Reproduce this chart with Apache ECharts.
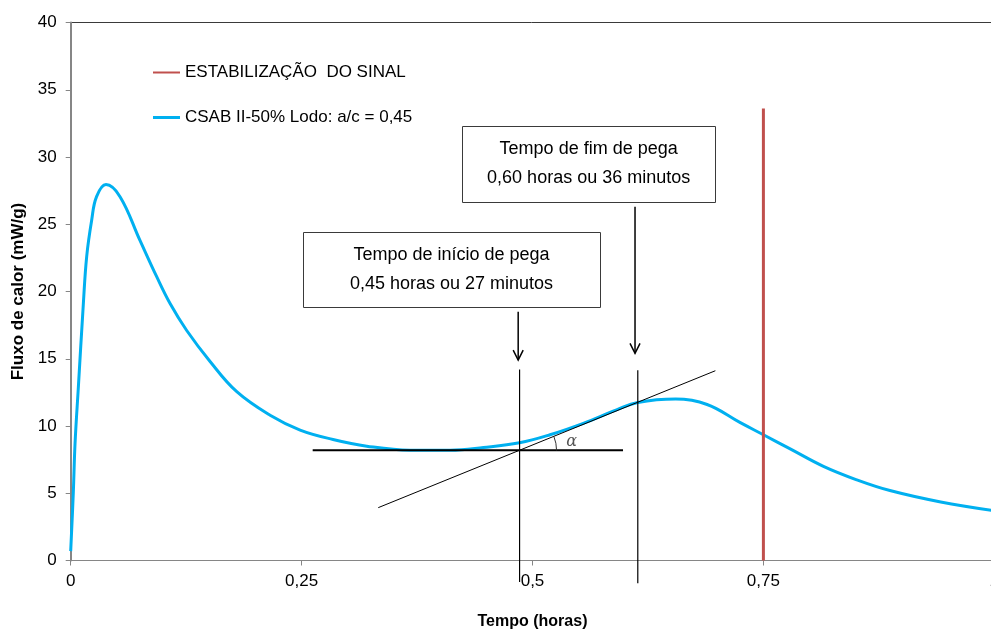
<!DOCTYPE html>
<html>
<head>
<meta charset="utf-8">
<script src="https://cdn.jsdelivr.net/npm/echarts@6/dist/echarts.min.js"></script>
<style>
  html, body { margin: 0; padding: 0; background: #ffffff; }
  #chart { width: 991px; height: 632px; }
</style>
</head>
<body>
<div id="chart"></div>
<script>
// Heat-flow curve: time (hours) vs heat flux (mW/g)
const timeH = [0, 0.0028, 0.0047, 0.0083, 0.0137, 0.0173, 0.0227, 0.028, 0.0382, 0.0534,
  0.075, 0.0931, 0.1076, 0.1256, 0.1509, 0.1798, 0.2159, 0.2484, 0.284, 0.3206,
  0.3675, 0.4108, 0.4469, 0.4859, 0.519, 0.555, 0.591, 0.614, 0.655, 0.689,
  0.725, 0.75, 0.779, 0.815, 0.851, 0.887, 0.942, 1.0];
const fluxMWg = [0.7, 5.0, 8.7, 12.9, 19.1, 22.6, 25.3, 27.05, 27.95, 27.05,
  23.8, 21.1, 19.1, 17.1, 14.8, 12.55, 10.8, 9.7, 9.0, 8.5,
  8.2, 8.2, 8.4, 8.75, 9.35, 10.2, 11.2, 11.75, 12.0, 11.6,
  10.25, 9.35, 8.3, 7.0, 6.0, 5.2, 4.35, 3.7];

// Signal stabilisation marker
const signalTime = [0.75, 0.75];
const signalFlux = [0, 33.6];

// Tangent construction (baseline, tangent, guides at set start / end)
const baselineX = [0.262, 0.598];
const baselineY = [8.19, 8.19];
const tangentX = [0.333, 0.698];
const tangentY = [3.93, 14.11];
const startGuideX = [0.486, 0.486];
const startGuideY = [-1.6, 14.2];
const endGuideX = [0.614, 0.614];
const endGuideY = [-1.7, 14.15];

// Arrows pointing to the guides: [x, yFrom, yTo]
const arrows = [[0.4845, 18.5, 14.9], [0.611, 26.3, 15.4]];

// Callout boxes: centre [x, y] and their texts
const calloutCentres = [[0.4123, 21.61], [0.5608, 29.48]];
const calloutTexts = [
  ['Tempo de início de pega', '0,45 horas ou 27 minutos'],
  ['Tempo de fim de pega', '0,60 horas ou 36 minutos']
];

// Axis ticks
const xTicks = [0, 0.25, 0.5, 0.75, 1];
const yTicks = [0, 5, 10, 15, 20, 25, 30, 35, 40];

const SIGNAL_NAME = 'ESTABILIZAÇÃO  DO SINAL';
const CURVE_NAME = 'CSAB II-50% Lodo: a/c = 0,45';

const FONT = '"Liberation Sans", Arial, sans-serif';
const zip = (xs, ys) => xs.map((x, i) => [x, ys[i]]);
const fmt = v => String(v).replace('.', ',');

const calloutSize = [[297, 75], [253, 76]];

const chart = echarts.init(document.getElementById('chart'), null, { renderer: 'canvas' });

const blackLine = (data, width) => ({
  type: 'line', data, symbol: 'none', silent: true, clip: false, z: 4,
  lineStyle: { color: '#000000', width }, animation: false
});

chart.setOption({
  animation: false,
  backgroundColor: '#ffffff',
  textStyle: { fontFamily: FONT },
  grid: {
    left: 70.7, right: -3.3, top: 22.5, bottom: 71.5,
    containLabel: false, outerBoundsMode: 'none',
    show: true, borderColor: '#3a3a3a', borderWidth: 1
  },
  legend: {
    data: [
      { name: SIGNAL_NAME, icon: 'path://M0,6 L27,6 L27,8 L0,8 Z' },
      { name: CURVE_NAME, icon: 'path://M0,5.5 L27,5.5 L27,8.5 L0,8.5 Z' }
    ],
    orient: 'vertical',
    left: 153, top: 64, padding: 0,
    itemWidth: 27, itemHeight: 14, itemGap: 28,
    textStyle: { fontFamily: FONT, fontSize: 17, color: '#000000' }
  },
  xAxis: {
    type: 'value', min: xTicks[0], max: xTicks[xTicks.length - 1], interval: 0.25,
    name: 'Tempo (horas)', nameLocation: 'middle', nameGap: 53,
    nameTextStyle: { fontFamily: FONT, fontSize: 16, fontWeight: 'bold', color: '#000000' },
    axisLine: { show: true, onZero: false, lineStyle: { color: '#868686', width: 1 } },
    axisTick: { show: true, inside: false, length: 5, lineStyle: { color: '#868686' } },
    axisLabel: { fontFamily: FONT, fontSize: 17, color: '#000000', margin: 12, formatter: fmt,
      showMinLabel: true, showMaxLabel: true },
    splitLine: { show: false }
  },
  yAxis: {
    type: 'value', min: yTicks[0], max: yTicks[yTicks.length - 1], interval: 5,
    name: 'Fluxo de calor (mW/g)', nameLocation: 'middle', nameGap: 44,
    nameTextStyle: { fontFamily: FONT, fontSize: 17, fontWeight: 'bold', color: '#000000' },
    axisLine: { show: true, lineStyle: { color: '#868686', width: 2 } },
    axisTick: { show: true, inside: false, length: 5, lineStyle: { color: '#868686' } },
    axisLabel: { fontFamily: FONT, fontSize: 17, color: '#000000', margin: 14, formatter: fmt },
    splitLine: { show: false }
  },
  series: [
    {
      name: SIGNAL_NAME, type: 'line', data: zip(signalTime, signalFlux),
      symbol: 'none', silent: true, z: 3,
      lineStyle: { color: '#C0504D', width: 3 }, itemStyle: { color: '#C0504D' }
    },
    {
      name: CURVE_NAME, type: 'line', data: zip(timeH, fluxMWg),
      symbol: 'none', smooth: 0.4, silent: true, z: 2,
      lineStyle: { color: '#00B0F0', width: 3 }, itemStyle: { color: '#00B0F0' }
    },
    blackLine(zip(baselineX, baselineY), 2),
    blackLine(zip(tangentX, tangentY), 1),
    blackLine(zip(startGuideX, startGuideY), 1.2),
    blackLine(zip(endGuideX, endGuideY), 1.2),
    {
      // arrows towards the guides
      type: 'custom', silent: true, clip: false, z: 5,
      data: arrows,
      renderItem(params, api) {
        const a = api.coord([api.value(0), api.value(1)]);
        const b = api.coord([api.value(0), api.value(2)]);
        return {
          type: 'group', children: [
            { type: 'line', shape: { x1: a[0], y1: a[1], x2: b[0], y2: b[1] },
              style: { stroke: '#000000', lineWidth: 1.5 } },
            { type: 'polyline', shape: { points: [[b[0] - 5, b[1] - 10], [b[0], b[1]], [b[0] + 5, b[1] - 10]] },
              style: { stroke: '#000000', lineWidth: 1.5, fill: null } }
          ]
        };
      }
    },
    {
      // text callouts
      type: 'custom', silent: true, clip: false, z: 6,
      data: calloutCentres,
      renderItem(params, api) {
        const c = api.coord([api.value(0), api.value(1)]);
        const [w, h] = calloutSize[params.dataIndex];
        return {
          type: 'group', children: [
            { type: 'rect', shape: { x: Math.round(c[0] - w / 2) + 0.5, y: Math.round(c[1] - h / 2) + 0.5, width: w, height: h },
              style: { fill: '#ffffff', stroke: '#3a3a3a', lineWidth: 1 } },
            { type: 'text', x: c[0], y: c[1],
              style: { text: calloutTexts[params.dataIndex].join('\n'), fontFamily: FONT, fontSize: 18,
                lineHeight: 29, fill: '#000000', align: 'center', verticalAlign: 'middle' } }
          ]
        };
      }
    },
    {
      // angle between baseline and tangent
      type: 'custom', silent: true, clip: false, z: 5,
      data: [[startGuideX[0], baselineY[0]]],
      renderItem(params, api) {
        const o = api.coord([api.value(0), api.value(1)]);
        const t0 = api.coord([tangentX[0], tangentY[0]]);
        const t1 = api.coord([tangentX[1], tangentY[1]]);
        const ang = Math.atan2(t1[1] - t0[1], t1[0] - t0[0]);
        return {
          type: 'group', children: [
            { type: 'arc', shape: { cx: o[0], cy: o[1], r: 37, startAngle: ang, endAngle: 0, clockwise: true },
              style: { stroke: '#333333', lineWidth: 1, fill: null } },
            { type: 'text', x: o[0] + 52, y: o[1] - 9,
              style: { text: 'α', fontFamily: '"DejaVu Serif", "Liberation Serif", serif', fontStyle: 'italic',
                fontSize: 16, fill: '#555555', align: 'center', verticalAlign: 'middle' } }
          ]
        };
      }
    }
  ]
});
</script>
</body>
</html>
